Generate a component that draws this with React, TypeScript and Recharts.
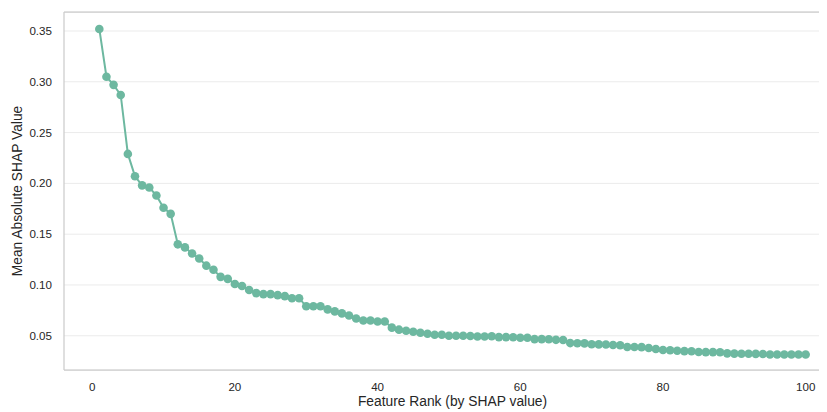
import React from "react";
import {
  LineChart,
  Line,
  XAxis,
  YAxis,
  CartesianGrid,
  ReferenceLine,
} from "recharts";

const ranks: number[] = Array.from({ length: 100 }, (_, i) => i + 1);

const shapValues: number[] = [
  0.352, 0.305, 0.297, 0.287, 0.229, 0.207, 0.198, 0.196, 0.188, 0.176,
  0.17, 0.14, 0.137, 0.131, 0.126, 0.119, 0.115, 0.108, 0.106, 0.101,
  0.099, 0.095, 0.092, 0.091, 0.091, 0.09, 0.089, 0.087, 0.087, 0.079,
  0.079, 0.079, 0.076, 0.074, 0.072, 0.07, 0.067, 0.065, 0.065, 0.064,
  0.064, 0.058, 0.056, 0.055, 0.054, 0.053, 0.052, 0.051, 0.051, 0.05,
  0.05, 0.05, 0.0497, 0.0493, 0.0493, 0.0495, 0.0487, 0.0487, 0.0485, 0.048,
  0.048, 0.0467, 0.0467, 0.0465, 0.046, 0.0458, 0.0428, 0.0427, 0.0425, 0.0417,
  0.0415, 0.0414, 0.0409, 0.0407, 0.039, 0.0389, 0.0388, 0.0379, 0.0369, 0.036,
  0.0358, 0.0353, 0.0349, 0.0348, 0.034, 0.0339, 0.0339, 0.0338, 0.0327, 0.0324,
  0.0323, 0.0323, 0.0322, 0.0321, 0.0315, 0.0316, 0.0316, 0.0315, 0.0315, 0.0315,
];

const xTicks: number[] = [0, 20, 40, 60, 80, 100];
const yTicks: number[] = [0.05, 0.1, 0.15, 0.2, 0.25, 0.3, 0.35];
const xDomain: [number, number] = [-3.95, 104.95];
const yDomain: [number, number] = [0.0163, 0.3687];

const xLabel = "Feature Rank (by SHAP value)";
const yLabel = "Mean Absolute SHAP Value";

const data = ranks.map((r, i) => ({ rank: r, value: shapValues[i] }));

const FONT = "'Liberation Sans', Arial, sans-serif";
const TEXT = "#262626";
const FRAME = "#cccccc";
const GRID = "#ebebeb";
const COLOR = "#6db8a0";

export default function App() {
  return (
    <div style={{ width: 819, height: 404, overflow: "hidden" }}>
      <LineChart
        width={860}
        height={404}
        data={data}
        margin={{ top: 4, right: 27, bottom: 0, left: 0 }}
        style={{ fontFamily: FONT }}
      >
        <CartesianGrid vertical={false} stroke={GRID} strokeWidth={1} />
        <XAxis
          dataKey="rank"
          type="number"
          domain={xDomain}
          ticks={xTicks}
          allowDataOverflow
          height={42}
          tickSize={0}
          tickMargin={13}
          tickLine={false}
          axisLine={{ stroke: FRAME, strokeWidth: 1.25 }}
          tick={{ fill: TEXT, fontSize: 11.6, fontFamily: FONT }}
          label={{
            content: ({ viewBox }: any) => (
              <text
                x={viewBox.x + viewBox.width / 2}
                y={398}
                textAnchor="middle"
                fill={TEXT}
                fontSize={13.8}
                fontFamily={FONT}
              >
                {xLabel}
              </text>
            ),
          }}
        />
        <YAxis
          type="number"
          domain={yDomain}
          ticks={yTicks}
          allowDataOverflow
          width={56}
          tickSize={0}
          tickMargin={12}
          tickLine={false}
          axisLine={{ stroke: FRAME, strokeWidth: 1.25 }}
          tick={{ fill: TEXT, fontSize: 11.6, fontFamily: FONT }}
          tickFormatter={(v: number) => v.toFixed(2)}
          label={{
            content: ({ viewBox }: any) => {
              const cx = 9;
              const cy = viewBox.y + viewBox.height / 2;
              return (
                <text
                  x={cx}
                  y={cy}
                  transform={`rotate(-90, ${cx}, ${cy})`}
                  textAnchor="middle"
                  dominantBaseline="central"
                  fill={TEXT}
                  fontSize={13.8}
                  fontFamily={FONT}
                >
                  {yLabel}
                </text>
              );
            },
          }}
        />
        <ReferenceLine y={yDomain[1]} stroke={FRAME} strokeWidth={1.25} />
        <Line
          type="linear"
          dataKey="value"
          stroke={COLOR}
          strokeWidth={2}
          dot={{ r: 4.3, fill: COLOR, stroke: "none" }}
          activeDot={false}
          isAnimationActive={false}
        />
      </LineChart>
    </div>
  );
}
